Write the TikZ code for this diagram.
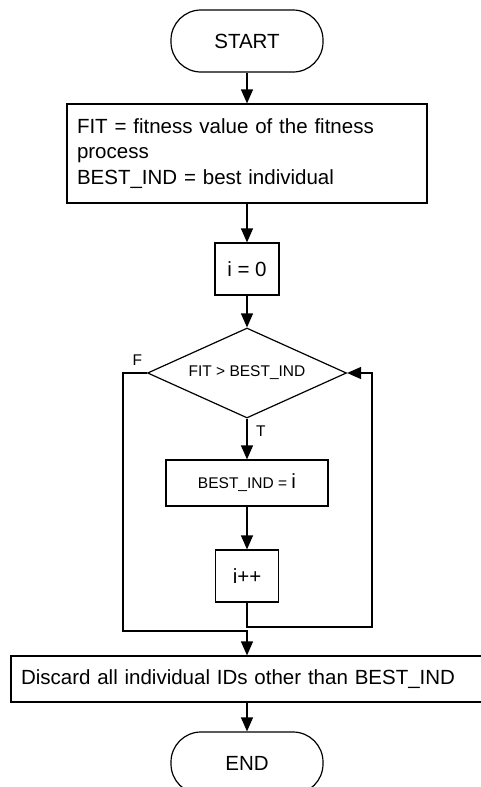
\documentclass[tikz,border=0pt]{standalone}
\usepackage{fontspec}
\setmainfont{Liberation Sans}
\usepackage{tikz}
\usetikzlibrary{shapes.geometric,arrows.meta}
\definecolor{flowblack}{RGB}{0, 0, 0}

\tikzset{
  terminal/.style={draw=flowblack, rectangle, rounded corners=30pt, minimum width=152pt, minimum height=62pt, line width=1.2pt, font=\fontsize{20.5}{25.6}\selectfont},
  procbox/.style={draw=flowblack, rectangle, line width=1.2pt, font=\fontsize{20.5}{25.6}\selectfont},
  decision/.style={draw=flowblack, diamond, aspect=2.2, inner sep=0pt, minimum width=199pt, minimum height=90pt, line width=1.2pt, font=\fontsize{15.5}{18}\selectfont},
  flow/.style={-{Triangle[length=14pt,width=12pt]}, line width=1.2pt, flowblack},
  tflabel/.style={font=\fontsize{15.5}{18}\selectfont, inner sep=1.5pt}
}

\begin{document}
\begin{tikzpicture}[x=1pt, y=-1pt]
\useasboundingbox (0,0) rectangle (480,787);

% Boxes of the flow
\node[terminal] (start) at (247,41) {START};
\node[procbox, text width=340pt, inner xsep=10pt, minimum height=99pt, align=left] (init) at (247,153.5) {FIT = fitness value of the fitness\\process\\BEST\_IND = best individual};
\node[procbox, minimum width=64pt, minimum height=52pt] (izero) at (247,269) {i = 0};
\node[decision] (cond) at (247,373) {FIT > BEST\_IND};
\node[procbox, minimum width=162pt, minimum height=46pt, font=\fontsize{15.5}{18}\selectfont] (setbest) at (247,483) {BEST\_IND = {\fontsize{20.5}{24}\selectfont i}};
\node[procbox, minimum width=63pt, minimum height=52pt] (inc) at (247,576) {i++};
\node[procbox, text width=464pt, inner xsep=10pt, minimum height=46pt, align=left] (discard) at (253,679) {Discard all individual IDs other than BEST\_IND};
\node[terminal] (stop) at (247,763) {END};

% Corners of the loop lines
\coordinate (loopR) at (372,627);
\coordinate (loopL) at (123,631);

% Connecting arrows
\draw[flow] (start.south) -- (init.north);
\draw[flow] (init.south) -- (izero.north);
\draw[flow] (izero.south) -- (cond.north);
\draw[flow] (cond.south) -- node[tflabel, pos=0.3, right=7pt] {T} (setbest.north);
\draw[flow] (setbest.south) -- (inc.north);
\draw[flow] (inc.south) |- (loopR) |- (cond.east);
\draw[flow] (cond.west) -| node[tflabel, pos=0.2, above=5.5pt] {F} (loopL) -| (cond.south |- discard.north);
\draw[flow] (stop.north |- discard.south) -- (stop.north);
\end{tikzpicture}
\end{document}
